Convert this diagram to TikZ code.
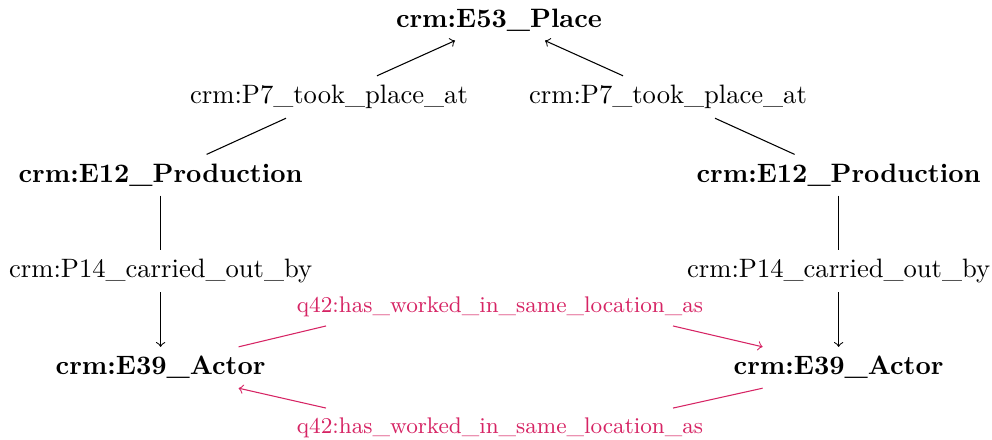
\documentclass[tikz,border=0pt]{standalone}
\usetikzlibrary{calc}
\definecolor{qpink}{RGB}{214,36,100}
\begin{document}
\begin{tikzpicture}[x=0.3757pt,y=-0.3757pt,
  cls/.style={font=\bfseries},
  prop/.style={},
  qprop/.style={text=qpink,font=\fontsize{8.5}{10}\selectfont},
  edge/.style={draw=black,line width=0.4pt},
  qedge/.style={draw=qpink,line width=0.4pt}]
\useasboundingbox (0,0) rectangle (992,439);
\node[cls] (E53) at (499,20) {crm:E53\_Place};
\node[prop] (P7L) at (329,97) {crm:P7\_took\_place\_at};
\node[prop] (P7R) at (668,97) {crm:P7\_took\_place\_at};
\node[cls] (E12L) at (160.6,175) {crm:E12\_Production};
\node[cls] (E12R) at (838.6,175) {crm:E12\_Production};
\node[prop] (P14L) at (160.6,271) {crm:P14\_carried\_out\_by};
\node[prop] (P14R) at (838.6,271) {crm:P14\_carried\_out\_by};
\node[cls] (E39L) at (160.6,367.5) {crm:E39\_Actor};
\node[cls] (E39R) at (838.6,367.5) {crm:E39\_Actor};
\node[qprop] (q42t) at (500,306.5) {q42:has\_worked\_in\_same\_location\_as};
\node[qprop] (q42b) at (500,427.5) {q42:has\_worked\_in\_same\_location\_as};
% place edges
\draw[edge] ($(E12L.north)+(46,0)$) -- ($(P7L.south)+(-43,0)$);
\draw[edge,->] ($(P7L.north)+(48,0)$) -- ($(E53.south)+(-44,0)$);
\draw[edge] ($(E12R.north)+(-44,0)$) -- ($(P7R.south)+(47,0)$);
\draw[edge,->] ($(P7R.north)+(-45,0)$) -- ($(E53.south)+(46,0)$);
% carried out by
\draw[edge] (E12L) -- (P14L);
\draw[edge,->] (P14L) -- (E39L);
\draw[edge] (E12R) -- (P14R);
\draw[edge,->] (P14R) -- (E39R);
% q42
\draw[qedge] ($(E39L.north)+(78,0)$) -- ($(q42t.south)+(-174,0)$);
\draw[qedge,->] ($(q42t.south)+(173,0)$) -- ($(E39R.north)+(-76,0)$);
\draw[qedge] ($(E39R.south)+(-76,0)$) -- ($(q42b.north)+(173,0)$);
\draw[qedge,->] ($(q42b.north)+(-174,0)$) -- ($(E39L.south)+(78,0)$);
\end{tikzpicture}
\end{document}
